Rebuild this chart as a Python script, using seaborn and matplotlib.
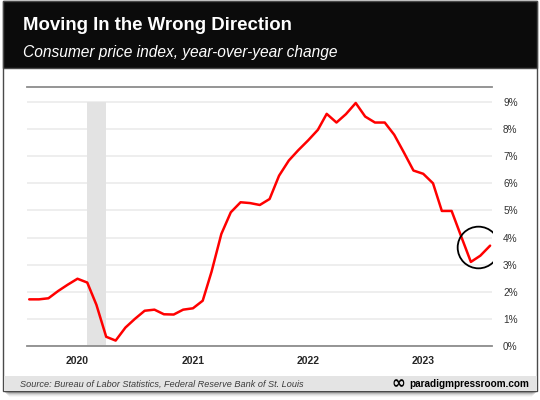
import matplotlib
matplotlib.use("Agg")
import matplotlib.pyplot as plt
from matplotlib.patches import Rectangle
import pandas as pd
import seaborn as sns

# monthly CPI, year-over-year % change (Aug 2019 - Aug 2023)
months = pd.date_range("2019-08-01", periods=49, freq="MS")
cpi_yoy = [
    1.72, 1.72, 1.76, 2.03, 2.26,
    2.48, 2.34, 1.52, 0.34, 0.20, 0.68, 1.00, 1.30, 1.34, 1.17, 1.16, 1.34,
    1.39, 1.67, 2.74, 4.13, 4.93, 5.30, 5.27, 5.20, 5.42, 6.28, 6.84, 7.22,
    7.58, 7.97, 8.56, 8.24, 8.55, 8.96, 8.46, 8.24, 8.24, 7.79, 7.13, 6.47,
    6.35, 6.00, 4.98, 4.98, 4.05, 3.10, 3.33, 3.70,
]
recession = ("2020-02-01", "2020-04-01")
year_ticks = ["2020-01-01", "2021-01-01", "2022-01-01", "2023-01-01"]
year_labels = ["2020", "2021", "2022", "2023"]
pct_ticks = list(range(10))
pct_labels = [f"{v}%" for v in pct_ticks]
highlight = ("2023-06-24", 3.65)

df = pd.DataFrame({"month": months, "cpi": cpi_yoy})

sns.set_theme(style="white")
plt.rcParams["font.family"] = ["Liberation Sans", "DejaVu Sans"]

W, H = 540, 400
fig = plt.figure(figsize=(W / 100, H / 100), dpi=100)
fig.patch.set_facecolor("white")


def fx(px):
    return px / W


def fy(py):
    return 1 - py / H


def box(x0, y0, x1, y1, **kw):
    fig.add_artist(Rectangle((fx(x0), fy(y1)), fx(x1) - fx(x0), fy(y0) - fy(y1),
                             transform=fig.transFigure, **kw))


# drop shadow under the card
for i, a in enumerate([0.18, 0.12, 0.08, 0.05, 0.03]):
    box(5 + i, 391, 536 - i, 393 + i, facecolor="black", edgecolor="none", alpha=a, zorder=0)
box(3, 1, 537, 391, facecolor="white", edgecolor="#4a4a4a", lw=1.0, zorder=1)
box(3, 1, 537, 68, facecolor="#0b0b0b", edgecolor="#4a4a4a", lw=1.0, zorder=2)
box(3.5, 376, 536.5, 390.5, facecolor="#e4e4e4", edgecolor="none", zorder=2)

fig.text(fx(23), fy(30), "Moving In the Wrong Direction", color="white",
         fontsize=13.4, fontweight="bold", va="baseline", zorder=3)
fig.text(fx(23), fy(57), "Consumer price index, year-over-year change", color="white",
         fontsize=11.2, style="italic", va="baseline", zorder=3)
fig.text(fx(20), fy(384), "Source: Bureau of Labor Statistics, Federal Reserve Bank of St. Louis",
         color="#3a3a3a", fontsize=6.6, style="italic", va="center", zorder=3)
fig.text(fx(529), fy(384), "paradigmpressroom.com", color="black",
         fontsize=7.2, fontweight="bold", va="center", ha="right", zorder=3)
fig.text(fx(405), fy(383.5), "\u221e", color="black", family=["DejaVu Sans"],
         fontsize=12, fontweight="bold", va="center", ha="right", zorder=3)

ax = fig.add_axes([fx(27), fy(346), fx(492) - fx(27), fy(87) - fy(346)])
ax.set_facecolor("none")
ax.set_zorder(4)

ax.axvspan(pd.Timestamp(recession[0]), pd.Timestamp(recession[1]), ymin=0, ymax=9 / 9.55,
           color="#e3e3e3", lw=0, zorder=1)
sns.lineplot(data=df, x="month", y="cpi", ax=ax, color="#ff0000", lw=1.8, zorder=3)
ax.plot(pd.Timestamp(highlight[0]), highlight[1], marker="o", markersize=30,
        markerfacecolor="none", markeredgecolor="black", markeredgewidth=1.3, zorder=4)

ax.set_xlim(pd.Timestamp("2019-07-25"), pd.Timestamp("2023-08-07"))
ax.set_ylim(0, 9.55)
ax.set_xticks([pd.Timestamp(t) for t in year_ticks])
ax.set_xticklabels(year_labels, fontweight="bold", fontsize=7.5)
ax.set_yticks(pct_ticks)
ax.set_yticklabels(pct_labels, fontsize=7.2, color="#333333")
ax.yaxis.tick_right()
ax.tick_params(axis="y", length=0, pad=8)
ax.tick_params(axis="x", length=0, pad=7)
ax.set_xlabel("")
ax.set_ylabel("")
ax.set_axisbelow(True)
ax.grid(axis="y", color="#ebebeb", lw=1.2)
ax.grid(axis="x", visible=False)
for side in ["left", "right"]:
    ax.spines[side].set_visible(False)
for side in ["top", "bottom"]:
    ax.spines[side].set_color("#8c8c8c")
    ax.spines[side].set_linewidth(1.3)

fig.savefig("out.png", dpi=100)
